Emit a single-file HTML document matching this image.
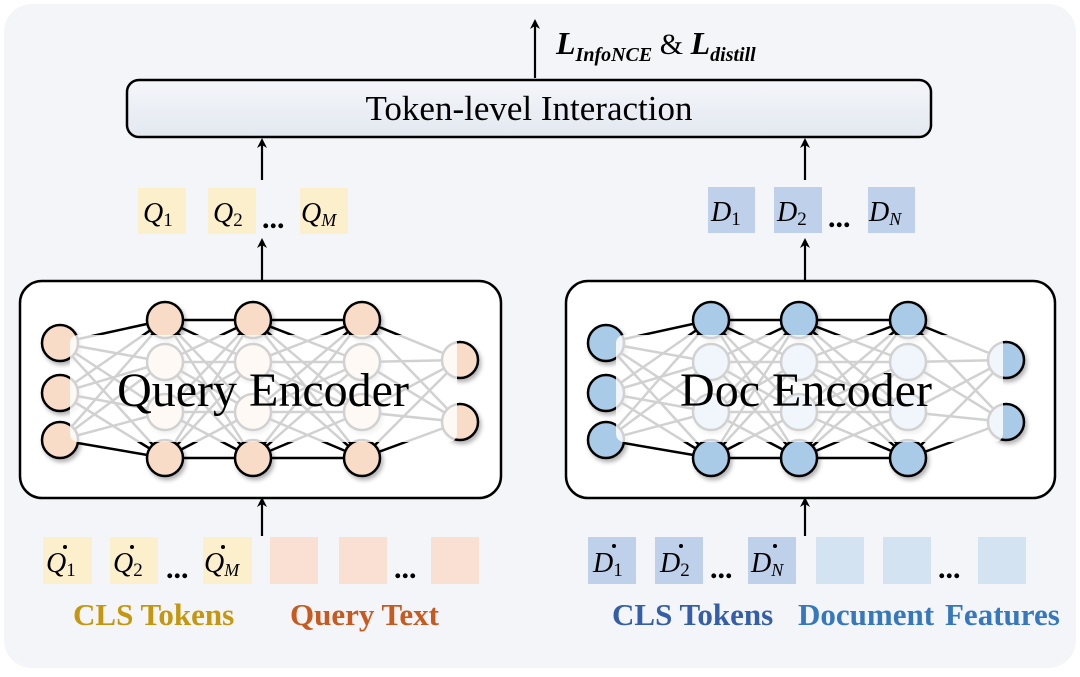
<!DOCTYPE html>
<html><head><meta charset="utf-8">
<style>
html,body{margin:0;padding:0;background:#fff;}
body{width:1080px;height:672px;overflow:hidden;}
svg text{font-family:"Liberation Serif",serif;}
</style></head><body>
<svg width="1080" height="672" viewBox="0 0 1080 672" xmlns="http://www.w3.org/2000/svg">
<defs>
<marker id="ah" markerWidth="10" markerHeight="10" refX="5" refY="5" orient="auto" markerUnits="userSpaceOnUse">
<path d="M0,0 L10,5 L0,10 L3,5 z" fill="#000"/>
</marker>
<linearGradient id="tg" x1="0" y1="0" x2="0" y2="1"><stop offset="0" stop-color="#f4f6fa"/><stop offset="1" stop-color="#e3e8f0"/></linearGradient>
<filter id="sh" x="-20%" y="-20%" width="140%" height="140%"><feDropShadow dx="2" dy="3" stdDeviation="2" flood-opacity="0.3"/></filter>
<g id="net">
<g stroke="#000" stroke-width="2.5">
<line x1="60" y1="343" x2="165" y2="320"/><line x1="60" y1="343" x2="165" y2="362"/><line x1="60" y1="343" x2="165" y2="412"/><line x1="60" y1="343" x2="165" y2="458"/>
<line x1="60" y1="393" x2="165" y2="320"/><line x1="60" y1="393" x2="165" y2="362"/><line x1="60" y1="393" x2="165" y2="412"/><line x1="60" y1="393" x2="165" y2="458"/>
<line x1="60" y1="440" x2="165" y2="320"/><line x1="60" y1="440" x2="165" y2="362"/><line x1="60" y1="440" x2="165" y2="412"/><line x1="60" y1="440" x2="165" y2="458"/>
<line x1="165" y1="320" x2="253" y2="320"/><line x1="165" y1="320" x2="253" y2="362"/><line x1="165" y1="320" x2="253" y2="412"/><line x1="165" y1="320" x2="253" y2="458"/>
<line x1="165" y1="362" x2="253" y2="320"/><line x1="165" y1="362" x2="253" y2="362"/><line x1="165" y1="362" x2="253" y2="412"/><line x1="165" y1="362" x2="253" y2="458"/>
<line x1="165" y1="412" x2="253" y2="320"/><line x1="165" y1="412" x2="253" y2="362"/><line x1="165" y1="412" x2="253" y2="412"/><line x1="165" y1="412" x2="253" y2="458"/>
<line x1="165" y1="458" x2="253" y2="320"/><line x1="165" y1="458" x2="253" y2="362"/><line x1="165" y1="458" x2="253" y2="412"/><line x1="165" y1="458" x2="253" y2="458"/>
<line x1="253" y1="320" x2="362" y2="320"/><line x1="253" y1="320" x2="362" y2="362"/><line x1="253" y1="320" x2="362" y2="412"/><line x1="253" y1="320" x2="362" y2="458"/>
<line x1="253" y1="362" x2="362" y2="320"/><line x1="253" y1="362" x2="362" y2="362"/><line x1="253" y1="362" x2="362" y2="412"/><line x1="253" y1="362" x2="362" y2="458"/>
<line x1="253" y1="412" x2="362" y2="320"/><line x1="253" y1="412" x2="362" y2="362"/><line x1="253" y1="412" x2="362" y2="412"/><line x1="253" y1="412" x2="362" y2="458"/>
<line x1="253" y1="458" x2="362" y2="320"/><line x1="253" y1="458" x2="362" y2="362"/><line x1="253" y1="458" x2="362" y2="412"/><line x1="253" y1="458" x2="362" y2="458"/>
<line x1="362" y1="320" x2="460" y2="360"/><line x1="362" y1="320" x2="460" y2="422"/>
<line x1="362" y1="362" x2="460" y2="360"/><line x1="362" y1="362" x2="460" y2="422"/>
<line x1="362" y1="412" x2="460" y2="360"/><line x1="362" y1="412" x2="460" y2="422"/>
<line x1="362" y1="458" x2="460" y2="360"/><line x1="362" y1="458" x2="460" y2="422"/>
</g>
<g stroke="#000" stroke-width="2.5" filter="url(#sh)">
<circle cx="60" cy="343" r="18"/><circle cx="60" cy="393" r="18"/><circle cx="60" cy="440" r="18"/>
<circle cx="165" cy="320" r="18"/><circle cx="165" cy="362" r="18"/><circle cx="165" cy="412" r="18"/><circle cx="165" cy="458" r="18"/>
<circle cx="253" cy="320" r="18"/><circle cx="253" cy="362" r="18"/><circle cx="253" cy="412" r="18"/><circle cx="253" cy="458" r="18"/>
<circle cx="362" cy="320" r="18"/><circle cx="362" cy="362" r="18"/><circle cx="362" cy="412" r="18"/><circle cx="362" cy="458" r="18"/>
<circle cx="460" cy="360" r="18"/><circle cx="460" cy="422" r="18"/>
</g>
<rect x="70" y="335" width="387" height="107" rx="8" fill="#fff" opacity="0.82"/>
</g>
</defs>
<rect x="0" y="0" width="1080" height="672" fill="#fff"/>
<rect x="4" y="4" width="1072" height="664" rx="28" fill="#f3f5f8"/>

<line x1="535" y1="78" x2="535" y2="24" stroke="#000" stroke-width="2.2" marker-end="url(#ah)"/>
<text x="556" y="54" font-size="32" font-weight="bold" font-style="italic">L<tspan font-size="20" dy="7">InfoNCE</tspan><tspan dy="-7" font-style="normal" font-weight="normal" font-size="30"> &amp; </tspan>L<tspan font-size="20" dy="7">distill</tspan></text>

<rect x="127" y="80" width="804" height="57" rx="12" fill="url(#tg)" stroke="#000" stroke-width="2.5"/>
<text x="529" y="120" font-size="35" text-anchor="middle">Token-level Interaction</text>

<g stroke="#000" stroke-width="2.2" marker-end="url(#ah)">
<line x1="262" y1="180" x2="262" y2="143"/>
<line x1="805" y1="180" x2="805" y2="143"/>
<line x1="262" y1="280" x2="262" y2="243"/>
<line x1="805" y1="280" x2="805" y2="243"/>
<line x1="262" y1="536" x2="262" y2="502"/>
<line x1="805" y1="536" x2="805" y2="502"/>
</g>

<g fill="#fcefcc">
<rect x="138" y="188" width="48" height="46"/><rect x="208" y="188" width="48" height="46"/><rect x="300" y="188" width="48" height="46"/>
</g>
<g font-size="28" font-style="italic">
<text x="143" y="222">Q<tspan font-style="normal" font-size="19" dy="4">1</tspan></text>
<text x="213" y="222">Q<tspan font-style="normal" font-size="19" dy="4">2</tspan></text>
<text x="301" y="222">Q<tspan font-size="18" dy="4">M</tspan></text>
</g>
<text x="262" y="228" font-size="30" font-weight="bold">...</text>

<g fill="#bed0ea">
<rect x="708" y="187" width="47" height="46"/><rect x="774" y="187" width="48" height="46"/><rect x="868" y="187" width="47" height="46"/>
</g>
<g font-size="28" font-style="italic">
<text x="711" y="221">D<tspan font-style="normal" font-size="19" dy="4">1</tspan></text>
<text x="777" y="221">D<tspan font-style="normal" font-size="19" dy="4">2</tspan></text>
<text x="869" y="221">D<tspan font-size="18" dy="4">N</tspan></text>
</g>
<text x="828" y="227" font-size="30" font-weight="bold">...</text>

<rect x="20" y="281" width="481" height="217" rx="22" fill="#fff" stroke="#000" stroke-width="2.5"/>
<rect x="566" y="281" width="489" height="217" rx="22" fill="#fff" stroke="#000" stroke-width="2.5"/>
<use href="#net" fill="#f9dcc8"/>
<use href="#net" transform="translate(546,0)" fill="#a9cbe8"/>
<text x="263" y="406" font-size="48" text-anchor="middle">Query Encoder</text>
<text x="806" y="406" font-size="48" text-anchor="middle">Doc Encoder</text>

<g fill="#fcefcc">
<rect x="43" y="537" width="49" height="47"/><rect x="110" y="537" width="48" height="47"/><rect x="203" y="537" width="49" height="47"/>
</g>
<g fill="#f9e0d2">
<rect x="270" y="537" width="48" height="47"/><rect x="339" y="537" width="48" height="47"/><rect x="431" y="537" width="48" height="47"/>
</g>
<g font-size="28" font-style="italic">
<text x="46" y="572">Q<tspan font-style="normal" font-size="19" dy="4">1</tspan></text>
<text x="113" y="572">Q<tspan font-style="normal" font-size="19" dy="4">2</tspan></text>
<text x="204" y="572">Q<tspan font-size="18" dy="4">M</tspan></text>
</g>
<circle cx="65" cy="547" r="2"/><circle cx="132" cy="547" r="2"/><circle cx="223" cy="547" r="2"/>
<text x="166" y="578" font-size="30" font-weight="bold">...</text>
<text x="394" y="578" font-size="30" font-weight="bold">...</text>

<g fill="#bed0ea">
<rect x="588" y="537" width="48" height="47"/><rect x="655" y="537" width="48" height="47"/><rect x="748" y="537" width="48" height="47"/>
</g>
<g fill="#d4e3f2">
<rect x="816" y="537" width="48" height="47"/><rect x="883" y="537" width="48" height="47"/><rect x="978" y="537" width="48" height="47"/>
</g>
<g font-size="28" font-style="italic">
<text x="593" y="572">D<tspan font-style="normal" font-size="19" dy="4">1</tspan></text>
<text x="660" y="572">D<tspan font-style="normal" font-size="19" dy="4">2</tspan></text>
<text x="751" y="572">D<tspan font-size="18" dy="4">N</tspan></text>
</g>
<circle cx="614" cy="546" r="2"/><circle cx="681" cy="546" r="2"/><circle cx="775" cy="546" r="2"/>
<text x="710" y="578" font-size="30" font-weight="bold">...</text>
<text x="938" y="578" font-size="30" font-weight="bold">...</text>

<g font-size="31" font-weight="bold">
<text x="73" y="625" fill="#c4970f">CLS Tokens</text>
<text x="290" y="625" fill="#c95a1f">Query Text</text>
<text x="612" y="625" fill="#355ea8">CLS Tokens</text>
<text x="798" y="625" fill="#3678bf">Document</text>
<text x="945" y="625" fill="#3678bf">Features</text>
</g>
</svg>
</body></html>
